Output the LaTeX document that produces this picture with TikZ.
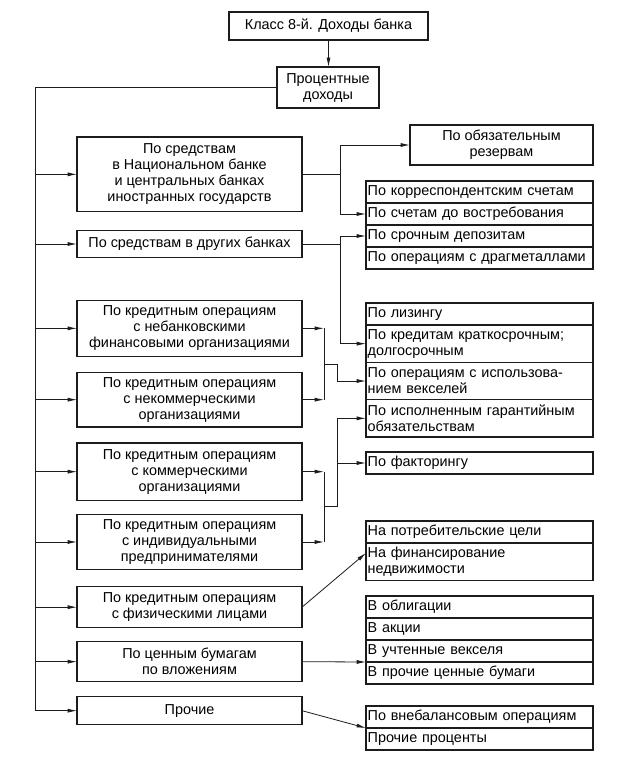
\documentclass[tikz,border=0pt]{standalone}
\usepackage{fontspec}
\setmainfont{Liberation Sans}
\usetikzlibrary{arrows.meta, positioning, calc}
\definecolor{dkInk}{HTML}{1C1C1C}

\begin{document}
\begin{tikzpicture}[x=0.75pt, y=-0.75pt,
      box/.style={draw=dkInk, line width=0.8pt, align=center, inner sep=2pt,
                  outer sep=0pt, font=\fontsize{10.8}{12}\selectfont},
      lbox/.style={box, minimum width=168.75pt, anchor=north},
      row/.style={draw=dkInk, line width=0.8pt, align=left, inner xsep=1.25pt,
                  inner ysep=1pt, outer sep=0pt, text width=167.75pt,
                  minimum height=16.5pt, anchor=north,
                  font=\fontsize{10.8}{12}\selectfont},
      rowtwo/.style={row, minimum height=28pt},
      arr/.style={-{Latex[length=7pt,width=3pt]}, line width=0.6pt, dkInk},
      node distance=12pt]
    \useasboundingbox (0,0) rectangle (624,775);
    % head
    \node[box, minimum width=149.25pt, minimum height=21pt, anchor=north west]
      (title) at (229,12) {Класс 8-й. Доходы банка};
    \node[box, minimum width=76.5pt, minimum height=30.75pt] (proc) at (328,87.5)
      {Процентные\\доходы};
    \draw[arr] (title.south) -- (title.south |- proc.north);
    % left column
    \node[lbox, minimum height=56pt] (l1) at (189.5,137)
      {По средствам\\в Национальном банке\\и центральных банках\\иностранных государств};
    \node[lbox, minimum height=20pt, below=14.25pt of l1] (l2)
      {По средствам в других банках};
    \node[lbox, minimum height=42pt, below=32.25pt of l2] (l3)
      {По кредитным операциям\\с небанковскими\\финансовыми организациями};
    \node[lbox, minimum height=41pt, below=of l3] (l4)
      {По кредитным операциям\\с некоммерческими\\организациями};
    \node[lbox, minimum height=43pt, below=of l4] (l5)
      {По кредитным операциям\\с коммерческими\\организациями};
    \node[lbox, minimum height=41.5pt, below=10.5pt of l5] (l6)
      {По кредитным операциям\\с индивидуальными\\предпринимателями};
    \node[lbox, minimum height=30.75pt, below=12.75pt of l6] (l7)
      {По кредитным операциям\\с физическими лицами};
    \node[lbox, minimum height=30pt, below=10.5pt of l7] (l8)
      {По ценным бумагам\\по вложениям};
    \node[lbox, minimum height=21pt, below=11.25pt of l8] (l9) {Прочие};
    % right column
    \node[box, minimum width=137.25pt, minimum height=30pt, anchor=north west]
      (oblig) at (410,125) {По обязательным\\резервам};
    \node[row, anchor=north west] (a1) at (366,181) {По корреспондентским счетам};
    \node[row, below=0pt of a1] (a2) {По счетам до востребования};
    \node[row, below=0pt of a2] (a3) {По срочным депозитам};
    \node[row, below=0pt of a3] (a4) {По операциям с драгметаллами};
    \node[row, anchor=north west] (b1) at (366,303) {По лизингу};
    \node[rowtwo, below=0pt of b1] (b2) {По кредитам краткосрочным;\\долгосрочным};
    \node[rowtwo, below=0pt of b2] (b3) {По операциям с использова-\\нием векселей};
    \node[rowtwo, below=0pt of b3] (b4) {По исполненным гарантийным\\обязательствам};
    \node[row, anchor=north west] (fact) at (366,452) {По факторингу};
    \node[row, anchor=north west] (c1) at (366,521) {На потребительские цели};
    \node[rowtwo, below=0pt of c1] (c2) {На финансирование\\недвижимости};
    \node[row, anchor=north west] (d1) at (366,596) {В облигации};
    \node[row, below=0pt of d1] (d2) {В акции};
    \node[row, below=0pt of d2] (d3) {В учтенные векселя};
    \node[row, below=0pt of d3] (d4) {В прочие ценные бумаги};
    \node[row, anchor=north west] (e1) at (366,706) {По внебалансовым операциям};
    \node[row, below=0pt of e1] (e2) {Прочие проценты};
    % trunk
    \draw[line width=0.6pt, dkInk] (proc.west) -- ++(-242,0) coordinate (tr)
      -- (tr |- l9.west);
    \draw[arr] (tr |- l1.west) -- (l1.west);
    \draw[arr] (tr |- l2.west) -- (l2.west);
    \draw[arr] (tr |- l3.west) -- (l3.west);
    \draw[arr] (tr |- l4.west) -- (l4.west);
    \draw[arr] (tr |- l5.west) -- (l5.west);
    \draw[arr] (tr |- l6.west) -- (l6.west);
    \draw[arr] (tr |- l7.west) -- (l7.west);
    \draw[arr] (tr |- l8.west) -- (l8.west);
    \draw[arr] (tr |- l9.west) -- (l9.west);
    % banks
    \draw[line width=0.6pt, dkInk] (l1.east) -- ++(38,0) coordinate (ja);
    \draw[arr] (ja) |- (oblig.west);
    \draw[arr] (ja) |- (a2.west);
    \draw[line width=0.6pt, dkInk] (l2.east) -- ++(38,0) coordinate (jb);
    \draw[arr] (jb) |- (a3.west);
    \draw[arr] (jb) |- (b2.west);
    % credits
    \draw[arr] (l3.east) -- ++(22,0) coordinate (kc1);
    \draw[arr] (l4.east) -- ++(22,0) coordinate (kc2);
    \draw[line width=0.6pt, dkInk] (kc1) -- (kc2);
    \draw[arr] ($(kc1)!.5!(kc2)$) -- ++(13,0) |- (b3.west);
    \draw[arr] (l5.east) -- ++(22,0) coordinate (kd1);
    \draw[arr] (l6.east) -- ++(22,0) coordinate (kd2);
    \draw[line width=0.6pt, dkInk] (kd1) -- (kd2);
    \draw[line width=0.6pt, dkInk] ($(kd1)!.5!(kd2)$) -- ++(13,0) coordinate (kd);
    \draw[arr] (kd) |- (b4.west);
    \draw[arr] (kd) |- (fact.west);
    % persons, papers, other
    \draw[arr] (l7.east) -- ([yshift=-7.5pt]c2.north west);
    \draw[arr] (l8.east) -- (d3.south west);
    \draw[arr] (l9.east) -- (e1.south west);
  \end{tikzpicture}
\end{document}
